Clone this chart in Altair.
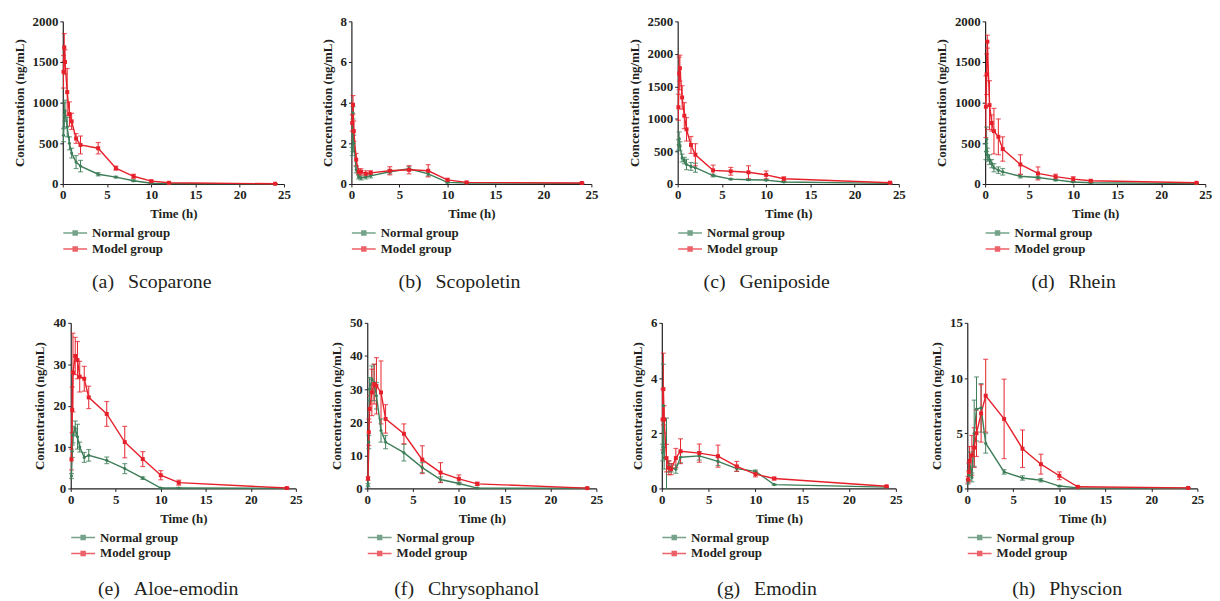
import altair as alt
import pandas as pd

TIME = [0.083, 0.167, 0.25, 0.5, 0.75, 1, 1.5, 2, 4, 6, 8, 10, 12, 24]
GROUPS = ["Normal group", "Model group"]
COLORS = ["#3d7d58", "#e6202a"]

# (a) Scoparone
SCOP_N = [600, 850, 900, 700, 500, 380, 270, 220, 120, 85, 40, 10, 5, 2]
SCOP_N_SD = [80, 150, 130, 120, 80, 60, 80, 70, 20, 10, 10, 5, 2, 1]
SCOP_M = [1380, 1680, 1500, 1130, 860, 770, 560, 480, 440, 195, 95, 35, 15, 3]
SCOP_M_SD = [200, 170, 150, 290, 150, 100, 60, 110, 70, 25, 25, 10, 5, 2]
# (b) Scopoletin
SCOL_N = [1.6, 3.5, 2.0, 0.7, 0.35, 0.3, 0.35, 0.4, 0.6, 0.75, 0.5, 0.08, 0.05, 0.03]
SCOL_N_SD = [0.2, 0.3, 0.4, 0.15, 0.1, 0.1, 0.1, 0.1, 0.1, 0.1, 0.1, 0.03, 0.02, 0.01]
SCOL_M = [3.0, 3.9, 2.6, 1.2, 0.6, 0.6, 0.5, 0.55, 0.65, 0.7, 0.65, 0.2, 0.08, 0.05]
SCOL_M_SD = [0.4, 0.45, 0.5, 0.3, 0.15, 0.15, 0.15, 0.1, 0.2, 0.2, 0.3, 0.08, 0.03, 0.02]
# (c) Geniposide
GENI_N = [600, 700, 580, 400, 360, 300, 270, 250, 130, 75, 65, 60, 30, 10]
GENI_N_SD = [80, 100, 70, 60, 50, 80, 60, 70, 20, 10, 10, 10, 5, 3]
GENI_M = [1180, 1700, 1780, 1330, 1050, 840, 600, 450, 210, 195, 180, 140, 80, 20]
GENI_M_SD = [200, 250, 200, 180, 200, 180, 130, 170, 80, 60, 100, 60, 30, 10]
# (d) Rhein
RHEI_N = [400, 550, 360, 300, 250, 200, 170, 150, 95, 80, 50, 25, 15, 5]
RHEI_N_SD = [100, 150, 80, 60, 50, 50, 40, 40, 20, 15, 10, 5, 3, 2]
RHEI_M = [950, 1350, 1750, 970, 750, 650, 580, 430, 240, 130, 90, 60, 40, 15]
RHEI_M_SD = [380, 250, 80, 300, 100, 280, 220, 150, 120, 80, 30, 30, 10, 5]
# (e) Aloe-emodin
ALOE_N = [3, 9, 13, 14.5, 12.5, 10, 7.5, 8, 6.8, 4.8, 2.5, 0.1, 0.1, 0.05]
ALOE_N_SD = [0.6, 1.5, 2, 1.8, 3, 1.2, 1.2, 1.4, 0.8, 1.2, 0.3, 0.05, 0.05, 0.02]
ALOE_M = [7, 19, 28, 32, 31, 27, 26.5, 22, 18, 11.2, 7.1, 3.2, 1.4, 0.1]
ALOE_M_SD = [2.5, 5.5, 9.5, 4.5, 4.5, 3.7, 3, 2.7, 3, 3.8, 1.8, 1.1, 0.6, 0.1]
# (f) Chrysophanol
CHRY_N = [1, 14, 30, 33, 32, 28, 17.5, 14, 10.8, 6.3, 2.7, 1.5, 0.1, 0.05]
CHRY_N_SD = [0.5, 2, 3.5, 4, 5.5, 4, 3.5, 2, 2.5, 1.5, 0.8, 0.4, 0.05, 0.02]
CHRY_M = [3, 17, 24, 29, 31.5, 31, 29, 21, 16.5, 8.7, 4.8, 2.9, 1.4, 0.1]
CHRY_M_SD = [0.5, 4, 4, 7, 6, 8.5, 9.5, 4.3, 3, 4.2, 3, 1.2, 0.5, 0.1]
# (g) Emodin
EMOD_N = [1.3, 3.0, 1.1, 1.1, 0.8, 0.75, 0.7, 1.13, 1.18, 0.98, 0.72, 0.62, 0.14, 0.05]
EMOD_N_SD = [0.3, 1.5, 0.4, 1.45, 0.2, 0.15, 0.15, 0.2, 0.15, 0.15, 0.1, 0.05, 0.02, 0.01]
EMOD_M = [2.5, 3.6, 2.5, 1.1, 0.75, 0.7, 1.1, 1.35, 1.28, 1.17, 0.8, 0.52, 0.36, 0.08]
EMOD_M_SD = [1.1, 1.3, 0.5, 0.5, 0.25, 0.2, 0.35, 0.45, 0.33, 0.4, 0.18, 0.1, 0.05, 0.02]
# (h) Physcion
PHYS_N = [0.6, 1.2, 2.5, 1.0, 5.0, 7.2, 7.3, 4.1, 1.5, 0.95, 0.75, 0.22, 0.05, 0.02]
PHYS_N_SD = [0.2, 0.4, 0.8, 0.4, 3.0, 2.9, 2.2, 0.9, 0.2, 0.2, 0.15, 0.05, 0.02, 0.01]
PHYS_M = [0.8, 1.5, 2.5, 3.0, 3.7, 5.0, 6.8, 8.4, 6.3, 3.6, 2.2, 1.15, 0.15, 0.05]
PHYS_M_SD = [0.3, 0.8, 1.3, 1.8, 1.8, 2.1, 2.6, 3.3, 3.6, 1.7, 0.9, 0.35, 0.05, 0.02]

FONT = "Liberation Serif"
INK = "#231f20"
LEG_PATH = "M-2.4,0H2.4M-0.4,-0.4H0.4V0.4H-0.4Z"


def panel(caption, ymax, ystep, nm, ns, mm, ms, w, h, cap_offset):
    rows = []
    for g, m, s in ((GROUPS[0], nm, ns), (GROUPS[1], mm, ms)):
        for t, mv, sv in zip(TIME, m, s):
            rows.append({"time": t, "group": g, "mean": mv, "sd": sv})
    df = pd.DataFrame(rows)
    base = alt.Chart(df).transform_calculate(
        lo="max(datum.mean - datum.sd, 0)", hi="datum.mean + datum.sd"
    )
    xenc = alt.X("time:Q", scale=alt.Scale(domain=[0, 25], nice=False),
                 axis=alt.Axis(values=[0, 5, 10, 15, 20, 25], title="Time (h)", labelFlush=False))
    yscale = alt.Scale(domain=[0, ymax], nice=False)
    yaxis = alt.Axis(values=list(range(0, ymax + 1, ystep)), title="Concentration (ng/mL)", format="d")
    color = alt.Color("group:N", scale=alt.Scale(domain=GROUPS, range=COLORS),
                      legend=alt.Legend(orient="none", legendX=6, legendY=h + 43, direction="vertical",
                                        title=None, symbolType=LEG_PATH, symbolSize=100,
                                        symbolStrokeWidth=1.5, labelOffset=10.5, labelFont=FONT,
                                        labelFontWeight="bold", labelFontSize=13, labelColor=INK,
                                        rowPadding=2, padding=0))
    rules = base.mark_rule(strokeWidth=1).encode(
        x=xenc, y=alt.Y("lo:Q", scale=yscale, axis=yaxis), y2="hi:Q", color=color)
    cap_hi = base.mark_tick(orient="horizontal", size=5, thickness=1.2).encode(
        x=xenc, y=alt.Y("hi:Q", scale=yscale, axis=yaxis), color=color)
    cap_lo = base.mark_tick(orient="horizontal", size=5, thickness=1.2).encode(
        x=xenc, y=alt.Y("lo:Q", scale=yscale, axis=yaxis), color=color)
    lines = base.mark_line(strokeWidth=1.4).encode(
        x=xenc, y=alt.Y("mean:Q", scale=yscale, axis=yaxis), color=color)
    pts_n = base.transform_filter(alt.datum.group == GROUPS[0]).mark_point(
        filled=True, opacity=1, shape="circle", size=10).encode(
        x=xenc, y=alt.Y("mean:Q", scale=yscale, axis=yaxis), color=color)
    pts_m = base.transform_filter(alt.datum.group == GROUPS[1]).mark_point(
        filled=True, opacity=1, shape="square", size=16).encode(
        x=xenc, y=alt.Y("mean:Q", scale=yscale, axis=yaxis), color=color)
    return alt.layer(rules, cap_hi, cap_lo, lines, pts_n, pts_m).properties(
        width=w, height=h,
        title=alt.TitleParams(text=caption, orient="bottom", anchor="middle", frame="bounds",
                              font=FONT, fontSize=20, fontWeight="normal", color=INK, offset=cap_offset))


def row(panels, spacing):
    return alt.hconcat(*panels, spacing=spacing).resolve_scale(color="independent").resolve_legend(color="independent")


GAP = "\u2002\u2009"
row1 = row([
    panel("(a)" + GAP + "Scoparone", 2000, 500, SCOP_N, SCOP_N_SD, SCOP_M, SCOP_M_SD, 223, 164, 16),
    panel("(b)" + GAP + "Scopoletin", 8, 2, SCOL_N, SCOL_N_SD, SCOL_M, SCOL_M_SD, 242, 164, 16),
    panel("(c)" + GAP + "Geniposide", 2500, 500, GENI_N, GENI_N_SD, GENI_M, GENI_M_SD, 223, 164, 16),
    panel("(d)" + GAP + "Rhein", 2000, 500, RHEI_N, RHEI_N_SD, RHEI_M, RHEI_M_SD, 222, 164, 16),
], 30)
row2 = row([
    panel("(e)" + GAP + "Aloe-emodin", 40, 10, ALOE_N, ALOE_N_SD, ALOE_M, ALOE_M_SD, 227, 167, 18),
    panel("(f)" + GAP + "Chrysophanol", 50, 10, CHRY_N, CHRY_N_SD, CHRY_M, CHRY_M_SD, 231, 167, 18),
    panel("(g)" + GAP + "Emodin", 6, 2, EMOD_N, EMOD_N_SD, EMOD_M, EMOD_M_SD, 236, 167, 18),
    panel("(h)" + GAP + "Physcion", 15, 5, PHYS_N, PHYS_N_SD, PHYS_M, PHYS_M_SD, 232, 167, 18),
], 28)

chart = alt.vconcat(row1, row2, spacing=25, center=True).resolve_scale(
    color="independent"
).resolve_legend(color="independent").properties(
    padding={"left": 5, "top": 5, "right": 0, "bottom": 0}
).configure_view(stroke=None).configure_axis(
    grid=False, domainColor=INK, tickColor=INK, labelColor=INK, titleColor=INK,
    labelFont=FONT, labelFontWeight="bold", labelFontSize=13,
    titleFont=FONT, titleFontWeight="bold", titleFontSize=13,
    tickSize=3, labelPadding=2, titlePadding=6, domainWidth=1.2, tickWidth=1
)

chart.save("out.html", embed_options={"renderer": "svg", "actions": False})
